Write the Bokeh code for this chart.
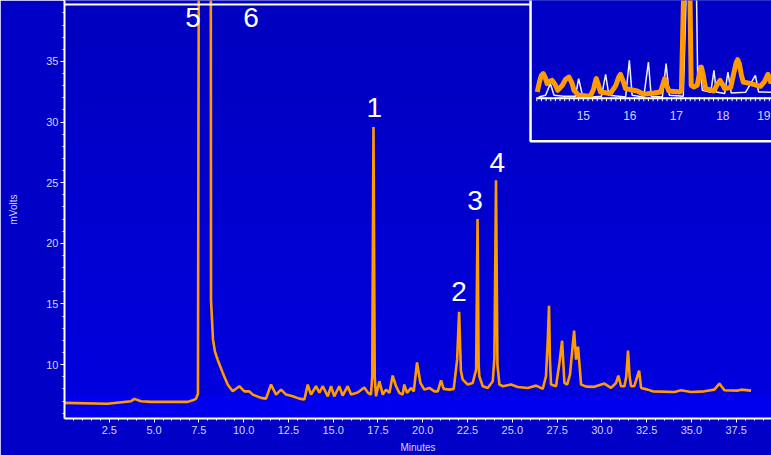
import numpy as np
from bokeh.plotting import figure
from bokeh.models import Range1d, FixedTicker, BoxAnnotation, NumeralTickFormatter
from bokeh.embed import file_html
from bokeh.resources import INLINE
from bokeh.core.properties import value

# ---------------- data ----------------
# main chromatogram: time (minutes) and detector signal (mVolts)
time_min = [0.00, 2.41, 3.71, 3.90, 4.27, 4.83, 6.88, 7.16, 7.34, 7.45, 7.52, 8.16, 8.18,
            8.29, 8.40, 8.55, 8.83, 9.11, 9.39, 9.76, 10.04, 10.32, 10.51, 10.97, 11.25,
            11.53, 11.81, 12.09, 12.37, 12.74, 13.11, 13.39, 13.58, 13.76, 14.04, 14.23,
            14.42, 14.70, 14.88, 15.06, 15.34, 15.53, 15.81, 16.00, 16.37, 16.74, 16.93,
            17.11, 17.18, 17.25, 17.32, 17.39, 17.58, 17.77, 17.95, 18.14, 18.32, 18.51,
            18.69, 18.88, 18.97, 19.12, 19.35, 19.50, 19.68, 19.87, 20.09, 20.37, 20.65,
            20.84, 21.02, 21.17, 21.49, 21.73, 21.92, 22.03, 22.13, 22.23, 22.51, 22.79,
            22.98, 23.06, 23.12, 23.16, 23.35, 23.63, 23.91, 24.00, 24.09, 24.17, 24.28,
            24.47, 24.93, 25.30, 25.86, 26.33, 26.70, 26.88, 26.98, 27.05, 27.10, 27.16,
            27.44, 27.63, 27.78, 27.91, 28.06, 28.22, 28.45, 28.56, 28.67, 28.84, 29.12,
            29.58, 30.14, 30.51, 30.79, 30.92, 31.07, 31.26, 31.36, 31.46, 31.55, 31.63,
            31.81, 32.08, 32.19, 32.56, 32.84, 34.05, 34.42, 34.98, 35.72, 36.28, 36.56,
            36.84, 37.59, 37.77, 38.33]
signal_mv = [6.85, 6.77, 6.98, 7.18, 6.98, 6.93, 6.93, 7.06, 7.18, 7.60, 60.0, 60.0, 15.30,
             12.06, 11.07, 10.41, 9.34, 8.36, 7.80, 8.22, 7.80, 7.80, 7.53, 7.26, 7.20,
             8.36, 7.53, 7.94, 7.53, 7.39, 7.20, 7.12, 8.36, 7.53, 8.22, 7.70,
             8.22, 7.39, 8.22, 7.39, 8.22, 7.45, 8.22, 7.53, 7.70, 8.11, 7.70,
             7.53, 9.00, 29.60, 9.00, 7.39, 8.63, 7.53, 7.94, 7.67, 9.10, 8.22,
             7.67, 7.53, 8.36, 7.67, 8.08, 7.80, 10.19, 8.49, 7.94, 8.08, 7.80,
             7.80, 8.71, 8.00, 7.94, 8.00, 10.41, 14.36, 9.50, 8.77, 8.36, 8.49,
             9.59, 22.00, 10.00, 9.04, 8.22, 8.08, 8.63, 10.55, 25.20, 10.00, 8.36,
             8.22, 8.36, 8.16, 8.08, 8.27, 8.00, 9.04, 12.00, 14.85, 10.50, 8.36,
             8.22, 10.14, 11.97, 8.49, 8.36, 9.18, 12.80, 10.41, 11.48, 8.36, 8.19,
             8.17, 8.44, 8.08, 8.49, 9.10, 8.22, 8.22, 9.00, 11.15, 9.00, 8.22,
             8.22, 9.51, 8.08, 7.94, 7.80, 7.75, 7.89, 7.75, 7.80, 7.94, 8.44,
             7.89, 7.86, 7.94, 7.86]

peak_labels = ["1", "2", "3", "4"]
peak_label_t = [17.30, 22.03, 22.92, 24.16]
peak_label_v = [31.19, 16.02, 23.51, 26.67]

top_labels = ["5", "6"]
top_label_t = [7.17, 10.41]
top_label_v = [38.65, 38.65]

x_ticks = [2.5, 5.0, 7.5, 10.0, 12.5, 15.0, 17.5, 20.0, 22.5, 25.0, 27.5, 30.0, 32.5, 35.0, 37.5]
y_ticks = [10, 15, 20, 25, 30, 35]

# inset (zoom of 14-19 min): two overlaid runs, relative signal
inset_orange_t = [14.01, 14.06, 14.10, 14.14, 14.18, 14.22, 14.27, 14.33, 14.39, 14.45, 14.55,
                  14.62, 14.69, 14.75, 14.80, 14.90, 15.15, 15.22, 15.26, 15.28, 15.32, 15.37,
                  15.58, 15.70, 15.76, 15.80, 15.85, 15.91, 16.16, 16.30, 16.52, 16.66, 16.72,
                  16.75, 16.79, 16.84, 17.08, 17.11, 17.18, 17.28, 17.32, 17.38, 17.45, 17.50,
                  17.54, 17.58, 17.63, 17.81, 17.88, 17.94, 17.99, 18.04, 18.17, 18.24, 18.29,
                  18.32, 18.36, 18.40, 18.44, 18.60, 18.81, 18.90, 18.97, 19.01, 19.04]
inset_orange_v = [0.53, 1.60, 2.20, 2.37, 2.00, 1.37, 1.60, 1.70, 1.30, 0.70, 1.20,
                  1.80, 2.03, 1.50, 0.70, 0.20, 0.10, 0.80, 1.60, 1.87, 1.30, 0.53,
                  0.37, 1.20, 2.00, 2.30, 1.70, 0.87, 0.63, 0.30, 0.43, 0.53, 1.40,
                  1.87, 1.20, 0.63, 0.53, 0.70, 15.0, 15.0, 1.20, 1.03, 1.20, 2.40,
                  3.03, 2.20, 0.87, 0.63, 1.30, 1.70, 1.30, 0.87, 0.97, 2.50, 3.50,
                  3.77, 3.30, 2.20, 1.53, 1.37, 1.10, 1.60, 2.30, 1.90, 1.37]
inset_white_t = [14.04, 14.19, 14.29, 14.37, 14.58, 14.83, 14.90, 14.98, 15.19, 15.39, 15.48,
                 15.55, 15.91, 15.99, 16.05, 16.30, 16.40, 16.46, 16.70, 16.78, 16.85, 17.15,
                 17.22, 17.43, 17.46, 17.50, 17.56, 17.74, 17.81, 17.86, 18.04, 18.11, 18.18,
                 18.49, 18.70, 18.77, 19.05]
inset_white_v = [0.03, 0.20, 1.37, 0.20, 0.10, 0.10, 1.87, 0.20, 0.03, 0.10, 2.30,
                 0.20, 0.03, 3.70, 0.20, 0.03, 3.53, 0.10, 0.03, 3.37, 0.20, 0.10,
                 11.7, 11.7, 1.70, 3.20, 0.70, 0.50, 2.70, 0.53, 0.37, 2.53, 0.43,
                 0.50, 2.20, 0.53, 0.50]
inset_ticks = [15, 16, 17, 18]
inset_last_tick = 19

# ---------------- styling ----------------
BG = "#0000c6"
ORANGE = "#ff9a00"
LABEL = "#d4d4ff"
FONT = "Liberation Sans"

p = figure(width=771, height=455, output_backend="svg", toolbar_location=None,
           x_range=Range1d(0, 39.47), y_range=Range1d(5.56, 40.02),
           min_border_left=64, min_border_right=0, min_border_top=0, min_border_bottom=36)
p.background_fill_color = BG
p.border_fill_color = BG
p.outline_line_color = None
p.grid.visible = False

# vertical background shading (slide style)
n_bands = 16
for i in range(n_bands):
    c = int(0xc0 + (0xdc - 0xc0) * i / (n_bands - 1))
    p.add_layout(BoxAnnotation(left=0, right=771, top=i * 395 / n_bands, bottom=(i + 1) * 395 / n_bands + 1,
                               left_units="canvas", right_units="canvas", top_units="canvas",
                               bottom_units="canvas", fill_color="#0000%02x" % c, fill_alpha=1.0,
                               line_color=None, level="underlay"))
p.add_layout(BoxAnnotation(left=0, right=771, top=395, bottom=455,
                           left_units="canvas", right_units="canvas", top_units="canvas",
                           bottom_units="canvas", fill_color="#0000ee", fill_alpha=1.0,
                           line_color=None, level="underlay"))

# axes
p.xaxis.ticker = FixedTicker(ticks=x_ticks, minor_ticks=list(np.round(np.arange(0.5, 39.5, 0.5), 2)))
p.xaxis.formatter = NumeralTickFormatter(format="0.0")
p.yaxis.ticker = FixedTicker(ticks=y_ticks, minor_ticks=list(range(6, 41)))
for ax in (p.xaxis[0], p.yaxis[0]):
    ax.axis_line_color = "white"
    ax.axis_line_width = 2
    ax.major_tick_line_color = "white"
    ax.minor_tick_line_color = "white"
    ax.major_tick_out = 4
    ax.major_tick_in = 0
    ax.minor_tick_out = 2
    ax.minor_tick_in = 0
    ax.major_label_text_color = LABEL
    ax.major_label_text_font = FONT
    ax.major_label_text_font_size = "11px"
    ax.axis_label_text_color = LABEL
    ax.axis_label_text_font = FONT
    ax.axis_label_text_font_size = "10px"
    ax.axis_label_text_font_style = "normal"
p.xaxis.axis_label = "Minutes"
p.yaxis.axis_label = "mVolts"
p.xaxis.major_label_standoff = 3
p.xaxis.axis_label_standoff = 5
p.yaxis.major_label_standoff = 2
p.yaxis.axis_label_standoff = 24

# main trace
p.line(time_min, signal_mv, line_color=ORANGE, line_width=2.6)

# top border of the main plot (ends at the inset)
p.segment(x0=[0], x1=[26.05], y0=[39.69], y1=[39.69], line_color="white", line_width=2)

# peak labels
p.text(x=peak_label_t, y=peak_label_v, text=peak_labels, text_color="white",
       text_font=value(FONT), text_font_size="28px", text_align="center", text_baseline="alphabetic")
p.text(x=top_label_t, y=top_label_v, text=top_labels, text_color="white",
       text_font=value(FONT), text_font_size="28px", text_align="center", text_baseline="alphabetic")

# ---------------- inset ----------------
p.extra_x_ranges = {"ix": Range1d(3.843, 19.047)}
p.extra_y_ranges = {"iy": Range1d(-32.2, 9.7)}
p.quad(left=[13.865], right=[30], bottom=[-4.4], top=[30], x_range_name="ix", y_range_name="iy",
       fill_color=BG, line_color="white", line_width=2.5)
p.line(inset_white_t, inset_white_v, x_range_name="ix", y_range_name="iy",
       line_color="#eeeeff", line_width=1.5)
p.line(inset_orange_t, inset_orange_v, x_range_name="ix", y_range_name="iy",
       line_color=ORANGE, line_width=5, line_join="round")
p.segment(x0=[14.0], x1=[19.3], y0=[-0.1], y1=[-0.1], x_range_name="ix", y_range_name="iy",
          line_color="white", line_width=2)
itk = np.round(np.arange(14.0, 19.25, 0.1), 1)
p.segment(x0=itk, x1=itk, y0=[0] * len(itk), y1=[-0.4] * len(itk), x_range_name="ix",
          y_range_name="iy", line_color="white", line_width=1)
p.text(x=inset_ticks, y=[-1.8] * len(inset_ticks), text=[str(t) for t in inset_ticks],
       x_range_name="ix", y_range_name="iy", text_color=LABEL, text_font=value(FONT),
       text_font_size="12px", text_align="center", text_baseline="middle")
# last inset label kept fully inside the page (right-aligned at the edge)
p.text(x=[19.025], y=[-1.8], text=[str(inset_last_tick)],
       x_range_name="ix", y_range_name="iy", text_color=LABEL, text_font=value(FONT),
       text_font_size="12px", text_align="right", text_baseline="middle")

open("out.html", "w").write(file_html(p, INLINE))
